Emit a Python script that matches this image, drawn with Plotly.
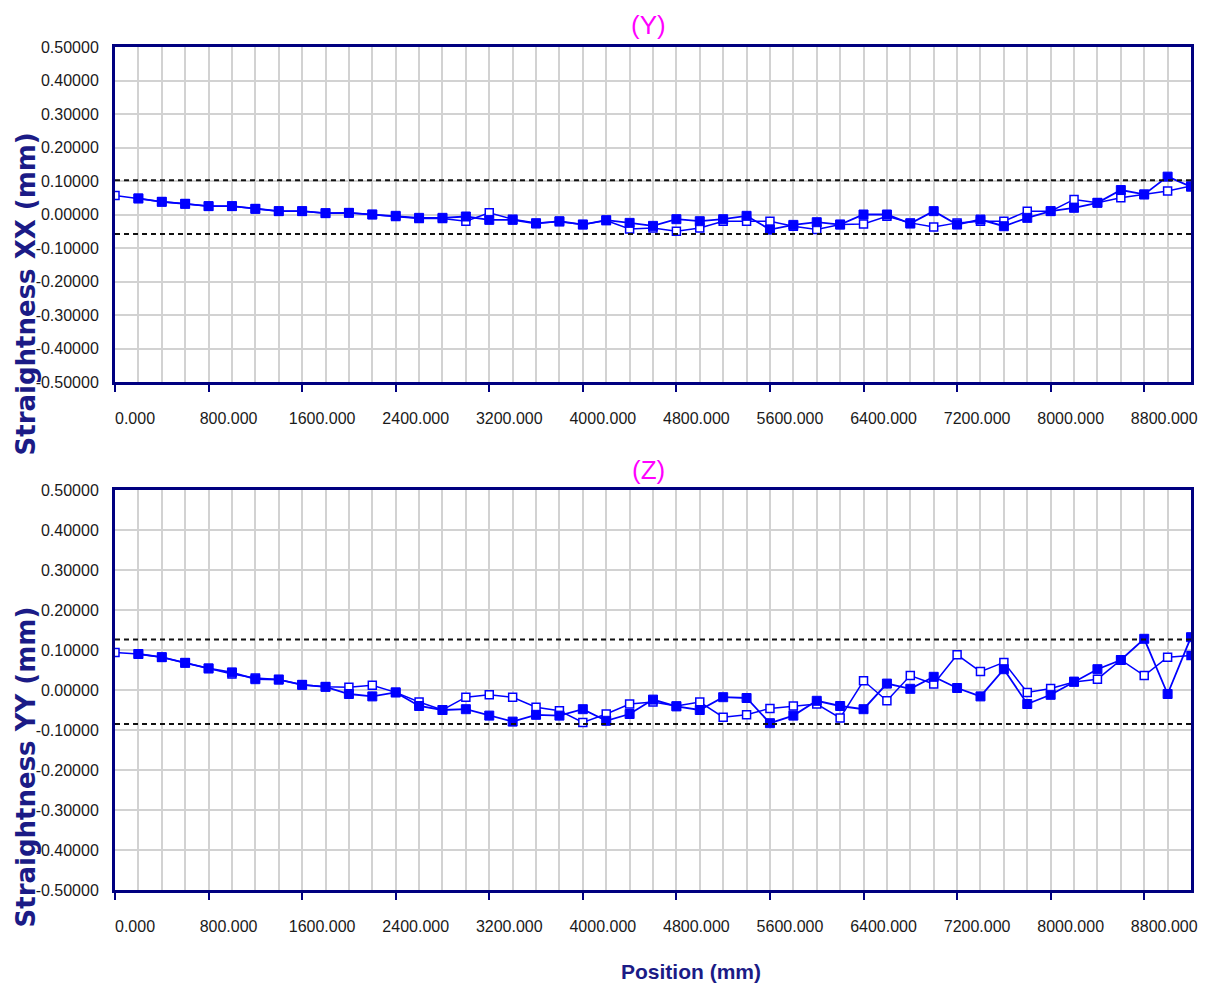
import plotly.graph_objects as go

# ---------------- data ----------------
positions = [0, 200, 400, 600, 800, 1000, 1200, 1400, 1600, 1800, 2000, 2200, 2400, 2600,
             2800, 3000, 3200, 3400, 3600, 3800, 4000, 4200, 4400, 4600, 4800, 5000, 5200,
             5400, 5600, 5800, 6000, 6200, 6400, 6600, 6800, 7000, 7200, 7400, 7600, 7800,
             8000, 8200, 8400, 8600, 8800, 9000, 9200]
positions_filled = positions[1:]

# (Y) panel - Straightness XX
y_top_filled = [0.048, 0.038, 0.032, 0.025, 0.025, 0.017, 0.010, 0.010, 0.004, 0.005, 0.000,
                -0.004, -0.010, -0.010, -0.006, -0.016, -0.016, -0.027, -0.020, -0.030, -0.017,
                -0.025, -0.034, -0.014, -0.020, -0.014, -0.004, -0.045, -0.031, -0.023, -0.030,
                0.000, 0.000, -0.027, 0.010, -0.030, -0.015, -0.035, -0.010, 0.010, 0.020,
                0.035, 0.073, 0.060, 0.113, 0.083]
y_top_open = [0.057, 0.048, 0.038, 0.032, 0.025, 0.025, 0.017, 0.010, 0.010, 0.004, 0.005, 0.000,
              -0.006, -0.012, -0.012, -0.020, 0.005, -0.014, -0.025, -0.022, -0.030, -0.018,
              -0.043, -0.040, -0.050, -0.040, -0.020, -0.020, -0.020, -0.035, -0.045, -0.030,
              -0.028, -0.005, -0.025, -0.037, -0.025, -0.020, -0.020, 0.010, 0.010, 0.045,
              0.035, 0.050, 0.060, 0.070, 0.085]

# (Z) panel - Straightness YY
y_bot_filled = [0.090, 0.082, 0.068, 0.054, 0.044, 0.027, 0.026, 0.013, 0.008, -0.010, -0.016,
                -0.006, -0.040, -0.050, -0.048, -0.064, -0.079, -0.062, -0.064, -0.048, -0.077,
                -0.060, -0.024, -0.041, -0.050, -0.018, -0.020, -0.083, -0.064, -0.027, -0.040,
                -0.048, 0.016, 0.003, 0.033, 0.005, -0.016, 0.052, -0.035, -0.012, 0.021,
                0.052, 0.075, 0.128, -0.010, 0.132]
y_bot_open = [0.094, 0.090, 0.082, 0.068, 0.054, 0.040, 0.030, 0.026, 0.013, 0.008, 0.007, 0.012,
              -0.006, -0.030, -0.050, -0.018, -0.012, -0.018, -0.043, -0.052, -0.081, -0.060,
              -0.035, -0.030, -0.040, -0.030, -0.068, -0.062, -0.046, -0.040, -0.035, -0.070,
              0.023, -0.027, 0.036, 0.015, 0.088, 0.046, 0.069, -0.006, 0.004, 0.020,
              0.027, 0.075, 0.036, 0.082, 0.086]

top_band = [0.102, -0.058]
bot_band = [0.126, -0.085]

x_tick_vals = [0, 800, 1600, 2400, 3200, 4000, 4800, 5600, 6400, 7200, 8000, 8800]
x_tick_text = ["0.000", "800.000", "1600.000", "2400.000", "3200.000", "4000.000",
               "4800.000", "5600.000", "6400.000", "7200.000", "8000.000", "8800.000"]
y_tick_vals = [0.5, 0.4, 0.3, 0.2, 0.1, 0.0, -0.1, -0.2, -0.3, -0.4, -0.5]
y_tick_text = ["0.50000", "0.40000", "0.30000", "0.20000", "0.10000", "0.00000",
               "-0.10000", "-0.20000", "-0.30000", "-0.40000", "-0.50000"]

panel_titles = ["(Y)", "(Z)"]
y_titles = ["Straightness XX (mm)", "Straightness YY (mm)"]
x_title = "Position (mm)"

# ---------------- style ----------------
BLUE = "#0000FF"
NAVY = "#000080"
GRID = "#d2d2d2"
SANS = "Liberation Sans, Arial, sans-serif"
TICKFONT = dict(family=SANS, size=16, color="#1a1a1a")
TITLEFONT = dict(family="DejaVu Sans, Verdana, sans-serif", size=26, color="#1b1b86")

fig = go.Figure()

panels = [
    ("x", "y", y_top_open, y_top_filled, top_band),
    ("x2", "y2", y_bot_open, y_bot_filled, bot_band),
]
for xa, ya, yo, yf, band in panels:
    open_colors = ["white"] * len(yo)
    if xa == "x2":
        open_colors[-1] = BLUE
    fig.add_trace(go.Scatter(
        x=positions, y=yo, xaxis=xa, yaxis=ya, mode="lines+markers",
        line=dict(color=BLUE, width=1.5),
        marker=dict(symbol="square", size=8, color=open_colors,
                    line=dict(color=BLUE, width=1.5)),
        showlegend=False, hoverinfo="x+y"))
    fig.add_trace(go.Scatter(
        x=positions_filled, y=yf, xaxis=xa, yaxis=ya, mode="lines+markers",
        line=dict(color=BLUE, width=1.8),
        marker=dict(symbol="square", size=9, color=BLUE,
                    line=dict(color=BLUE, width=1)),
        showlegend=False, hoverinfo="x+y"))
    for b in band:
        fig.add_shape(type="line", xref=xa, yref=ya, x0=positions[0], x1=positions[-1],
                      y0=b, y1=b, line=dict(color="#111111", width=2, dash="5px,4px"))

xaxis_common = dict(
    range=[positions[0], positions[-1]], tickmode="array", tickvals=x_tick_vals,
    ticktext=x_tick_text, showgrid=True, gridcolor=GRID, gridwidth=1.5,
    minor=dict(tickmode="linear", tick0=0, dtick=200, showgrid=True, gridcolor=GRID,
               gridwidth=1.5, ticks=""),
    showline=True, linecolor=NAVY, linewidth=3, mirror=True,
    ticks="outside", ticklen=7, tickwidth=2, tickcolor=NAVY,
    ticklabelshift=20, ticklabelstandoff=13, tickfont=TICKFONT, zeroline=False,
    fixedrange=True,
)
yaxis_common = dict(
    range=[-0.5, 0.5], tickmode="array", tickvals=y_tick_vals, ticktext=y_tick_text,
    showgrid=True, gridcolor=GRID, gridwidth=1.5,
    showline=True, linecolor=NAVY, linewidth=3, mirror=True,
    ticks="", ticklabelstandoff=10, tickfont=TICKFONT, zeroline=False, fixedrange=True,
)

top_dom = [(890 - 382) / 843, 1.0]
bot_dom = [0.0, 400 / 843]

# page body has an 8px margin, so the figure is offset by 8px in the window
fig.update_layout(
    width=1201, height=985,
    margin=dict(l=107, r=12, t=39, b=103),
    paper_bgcolor="white", plot_bgcolor="white",
    xaxis=dict(anchor="y", domain=[0, 1], **xaxis_common),
    yaxis=dict(anchor="x", domain=top_dom, **yaxis_common),
    xaxis2=dict(anchor="y2", domain=[0, 1], **xaxis_common),
    yaxis2=dict(anchor="x2", domain=bot_dom, **yaxis_common),
)

def px_x(p):
    return (p - 115) / 1082

def px_y(p):
    return (890 - p) / 843

annotations = [
    dict(text=panel_titles[0], x=px_x(651), y=px_y(25)),
    dict(text=panel_titles[1], x=px_x(651), y=px_y(470)),
]
for a in annotations:
    a.update(xref="paper", yref="paper", showarrow=False, xanchor="center", yanchor="middle",
             font=dict(family=SANS, size=26, color="#FF00FF"))
    fig.add_annotation(**a)

for title, cy in zip(y_titles, [294, 767]):
    fig.add_annotation(text="<b>" + title + "</b>", x=px_x(26), y=px_y(cy), xref="paper",
                       yref="paper", showarrow=False, textangle=-90, xanchor="center",
                       yanchor="middle", font=TITLEFONT)

fig.add_annotation(text="<b>" + x_title + "</b>", x=px_x(694), y=px_y(972), xref="paper",
                   yref="paper", showarrow=False, xanchor="center", yanchor="middle",
                   font=dict(family=SANS, size=21, color="#1b1b86"))

fig.write_html("out.html")
